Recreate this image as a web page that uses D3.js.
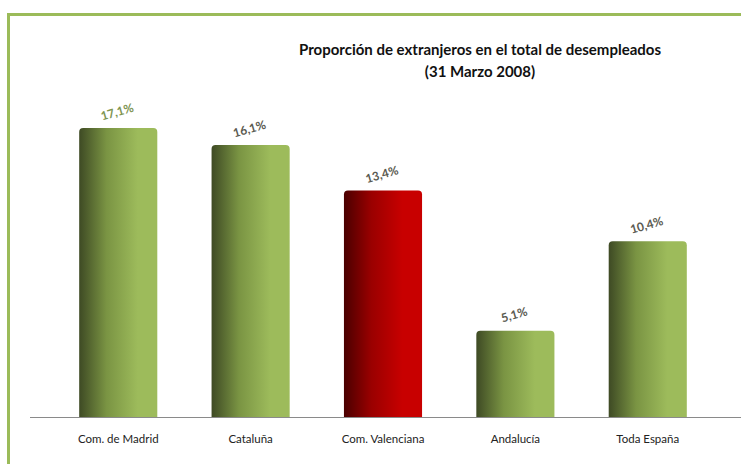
<!DOCTYPE html>
<html>
<head>
<meta charset="utf-8">
<script src="https://cdn.jsdelivr.net/npm/d3@7"></script>
<style>
  body { margin: 0; background: #fff; }
  text { font-family: Lato, "Open Sans", sans-serif; }
</style>
</head>
<body>
<div class="container"></div>
<script>
const regions = ["Com. de Madrid", "Cataluña", "Com. Valenciana", "Andalucía", "Toda España"]
const values = [17.1, 16.1, 13.4, 5.1, 10.4]
const valueLabels = ["17,1%", "16,1%", "13,4%", "5,1%", "10,4%"]
const highlighted = ["Com. Valenciana"]

const width = 741
const height = 464

const svg = d3.select(".container")
              .append("svg")
              .attr("width", width)
              .attr("height", height)

// frame
svg.append("path")
   .attr("d", "M8.5," + height + " L8.5,14.5 L" + width + ",14.5")
   .attr("fill", "none")
   .attr("stroke", "#9bbb59")
   .attr("stroke-width", 3)

const defs = svg.append("defs")
const makeGrad = (id, dark, mid, light) => {
    const g = defs.append("linearGradient").attr("id", id)
                  .attr("x1", "0%").attr("x2", "100%").attr("y1", "0%").attr("y2", "0%")
    g.append("stop").attr("offset", "0%").attr("stop-color", dark)
    g.append("stop").attr("offset", "35%").attr("stop-color", mid)
    g.append("stop").attr("offset", "75%").attr("stop-color", light)
    g.append("stop").attr("offset", "100%").attr("stop-color", light)
}
makeGrad("green", "#3e4a24", "#7a9443", "#9dbb5b")
makeGrad("red", "#4a0000", "#9a0000", "#c80000")

const x = d3.scaleBand()
            .domain(regions)
            .range([13, 753])
            .paddingInner(0.41)
            .paddingOuter(0.5)

const y = d3.scaleLinear()
            .domain([0, 17.1])
            .range([417, 128])

const bars = svg.selectAll(".bar")
                .data(regions)
                .enter()
                .append("g")
                .attr("class", "bar")

bars.append("path")
    .attr("fill", (r) => highlighted.includes(r) ? "url(#red)" : "url(#green)")
    .attr("d", (r, i) => {
        const x0 = x(r), x1 = x(r) + x.bandwidth(), yt = y(values[i]), yb = y(0), rr = 4
        return "M" + x0 + "," + yb + " L" + x0 + "," + (yt + rr) +
               " Q" + x0 + "," + yt + " " + (x0 + rr) + "," + yt +
               " L" + (x1 - rr) + "," + yt +
               " Q" + x1 + "," + yt + " " + x1 + "," + (yt + rr) +
               " L" + x1 + "," + yb + " Z"
    })

bars.append("text")
    .text((r, i) => valueLabels[i])
    .attr("text-anchor", "middle")
    .attr("font-size", 12)
    .attr("font-weight", "bold")
    .attr("fill", (r, i) => i == 0 ? "#7d9450" : "#5a5a50")
    .attr("transform", (r, i) => "translate(" + (x(r) + x.bandwidth() / 2) + "," + (y(values[i]) - 12) + ") rotate(-16)")

// baseline axis
svg.append("g")
   .attr("transform", "translate(0,417)")
   .call(d3.axisBottom(x).tickSize(0).tickPadding(16))
   .call(g => g.select(".domain").remove())
   .call(g => g.selectAll("text").attr("font-size", 11.5).attr("font-family", "Lato").attr("fill", "#222").attr("dy", "0.9em"))

svg.append("line")
   .attr("x1", 30).attr("x2", width)
   .attr("y1", y(0) + 0.5).attr("y2", y(0) + 0.5)
   .attr("stroke", "#8a8a8a")
   .attr("stroke-width", 1.2)

// title
svg.append("text")
   .attr("x", 480).attr("y", 55)
   .attr("text-anchor", "middle")
   .attr("font-size", 15).attr("font-weight", "bold").attr("fill", "#111")
   .text("Proporción de extranjeros en el total de desempleados")
svg.append("text")
   .attr("x", 480).attr("y", 77)
   .attr("text-anchor", "middle")
   .attr("font-size", 15).attr("font-weight", "bold").attr("fill", "#111")
   .text("(31 Marzo 2008)")
</script>
</body>
</html>
